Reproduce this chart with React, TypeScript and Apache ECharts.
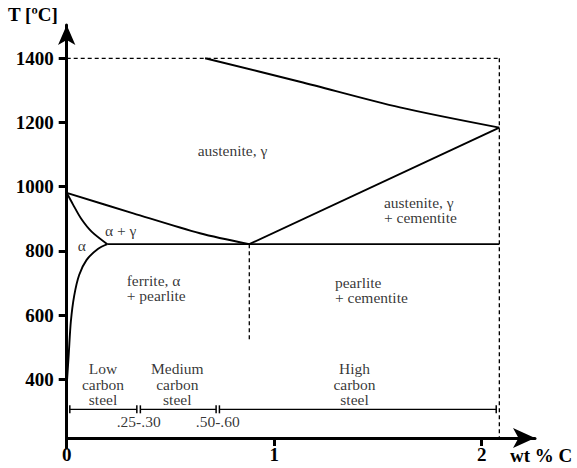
import React, { useEffect, useRef } from 'react';
import * as echarts from 'echarts';

// ---- axis ticks ----
const xTicks = [0, 1, 2];
const yTicks = [400, 600, 800, 1000, 1200, 1400];

// ---- phase boundaries [wt% C, T] ----
const liquidus = [[0.667, 1400], [1.124, 1327], [1.606, 1247], [2.085, 1184]];
const acmLine = [[0.88, 821], [2.085, 1184]];
const a3Upper = [[0, 981], [0.321, 917], [0.642, 855], [0.88, 821]];
const alphaBoundary = [[0, 981], [0.03, 945], [0.07, 900], [0.12, 860], [0.196, 821]];
const solvus = [[0.196, 821], [0.15, 806], [0.096, 772], [0.06, 725], [0.036, 660], [0.02, 580], [0.01, 480], [0.002, 400]];
const eutectoidLine = [[0.196, 821], [2.085, 821]];
const topDashed = [[0, 1400], [2.085, 1400]];
const rightDashed = [[2.085, 1400], [2.085, 217]];
const eutectoidDashed = [[0.88, 821], [0.88, 525]];

// ---- steel classes ----
const steelBarStart = [0.015, 0.355, 0.736];
const steelBarEnd = [0.338, 0.72, 2.07];
const steelBarT = 306.5;
const steelNames = ['Low\ncarbon\nsteel', 'Medium\ncarbon\nsteel', 'High\ncarbon\nsteel'];
const steelNameX = [0.175, 0.533, 1.387];
const steelNameT = 384;
const limitLabels = ['.25-.30', '.50-.60'];
const limitX = [0.347, 0.728];
const limitT = 268;

// ---- region labels ----
const centeredLabels = ['austenite, γ', 'α + γ', 'α'];
const centeredX = [0.799, 0.26, 0.073];
const centeredT = [1114, 865, 818];
const leftLabels = ['austenite, γ\n+ cementite', 'ferrite, α\n+ pearlite', 'pearlite\n+ cementite'];
const leftX = [1.529, 0.289, 1.293];
const leftT = [928, 684, 678];

const FONT = 'Liberation Serif, Times New Roman, serif';

function lineSeries(data: number[][], opts: any = {}) {
  return {
    type: 'line',
    data,
    showSymbol: false,
    symbol: 'none',
    silent: true,
    lineStyle: { color: '#000', width: 1.9, ...(opts.lineStyle || {}) },
    smooth: opts.smooth ?? false,
    z: 3,
  };
}

export default function App() {
  const ref = useRef<HTMLDivElement>(null);
  useEffect(() => {
    if (!ref.current) return;
    const chart = echarts.init(ref.current, null, { renderer: 'svg' });
    const dashed = { width: 1.3, type: [4, 3] };
    const bars = steelBarStart.map((s, i) => ({
      type: 'line',
      data: [[s, steelBarT], [steelBarEnd[i], steelBarT]],
      symbol: 'rect',
      symbolSize: [1.5, 8],
      showSymbol: true,
      itemStyle: { color: '#000' },
      lineStyle: { color: '#000', width: 1.3 },
      silent: true,
    }));
    const textStyle = { fontFamily: FONT, fontSize: 15.5, color: '#000', lineHeight: 15.5 };
    chart.setOption({
      animation: false,
      backgroundColor: '#fff',
      grid: { left: 66.7, right: 42, top: 25, bottom: 20, containLabel: false, outerBoundsMode: 'none' },
      xAxis: {
        type: 'value',
        min: 0,
        max: 2.2569,
        offset: -10,
        splitLine: { show: false },
        axisLine: { show: true, lineStyle: { color: '#000', width: 3 }, symbol: ['none', 'arrow'], symbolSize: [15, 22] },
        axisTick: { show: true, customValues: xTicks, length: 8, lineStyle: { color: '#000', width: 3 } },
        axisLabel: { customValues: xTicks, margin: 7, formatter: (v: number) => String(v), fontFamily: FONT, fontWeight: 'bold', fontSize: 19, color: '#000' },
      },
      yAxis: {
        type: 'value',
        min: 186,
        max: 1503.7,
        splitLine: { show: false },
        axisLine: { show: true, onZero: false, lineStyle: { color: '#000', width: 3 }, symbol: ['none', 'arrow'], symbolSize: [13, 20] },
        axisTick: { show: true, customValues: yTicks, length: 8, lineStyle: { color: '#000', width: 3 } },
        axisLabel: { customValues: yTicks, margin: 13, formatter: (v: number) => String(v), fontFamily: FONT, fontWeight: 'bold', fontSize: 19, color: '#000' },
      },
      graphic: [
        { type: 'text', left: 8, top: 5, style: { text: 'T [ºC]', font: `bold 19px ${FONT}`, fill: '#000' } },
        { type: 'text', left: 510, top: 446, style: { text: 'wt % C', font: `bold 19px ${FONT}`, fill: '#000' } },
      ],
      series: [
        lineSeries(topDashed, { lineStyle: dashed }),
        lineSeries(rightDashed, { lineStyle: dashed }),
        lineSeries(eutectoidDashed, { lineStyle: dashed }),
        lineSeries(liquidus, { smooth: 0.3 }),
        lineSeries(acmLine),
        lineSeries(a3Upper, { smooth: 0.3 }),
        lineSeries(alphaBoundary, { smooth: 0.3 }),
        lineSeries(solvus, { smooth: 0.3 }),
        lineSeries(eutectoidLine),
        ...bars,
        {
          type: 'scatter',
          symbolSize: 1,
          itemStyle: { color: 'rgba(0,0,0,0)' },
          silent: true,
          data: [
            ...steelNames.map((n, i) => ({ name: n, value: [steelNameX[i], steelNameT] })),
            ...limitLabels.map((n, i) => ({ name: n, value: [limitX[i], limitT] })),
            ...centeredLabels.map((n, i) => ({ name: n, value: [centeredX[i], centeredT[i]] })),
          ],
          label: { show: true, position: 'inside', formatter: '{b}', align: 'center', verticalAlign: 'middle', ...textStyle },
        },
        {
          type: 'scatter',
          symbolSize: 1,
          itemStyle: { color: 'rgba(0,0,0,0)' },
          silent: true,
          data: leftLabels.map((n, i) => ({ name: n, value: [leftX[i], leftT[i]] })),
          label: { show: true, position: 'inside', formatter: '{b}', align: 'left', verticalAlign: 'middle', ...textStyle },
        },
      ],
    });
    return () => chart.dispose();
  }, []);
  return <div ref={ref} style={{ position: 'fixed', left: 0, top: 0, width: 577, height: 468 }} />;
}
